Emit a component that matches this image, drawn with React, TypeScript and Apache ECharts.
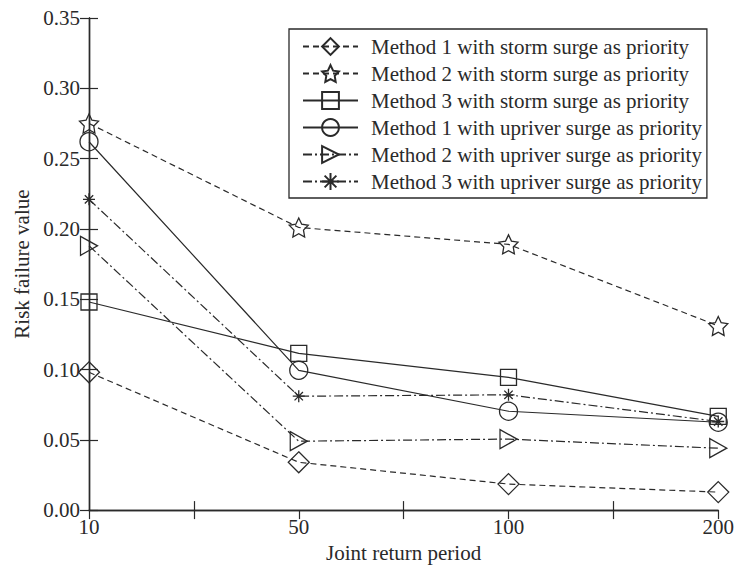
import React, { useEffect, useRef } from "react";
import * as echarts from "echarts";

const categories = ["10", "50", "100", "200"];
const seriesNames = [
  "Method 1 with storm surge as priority",
  "Method 2 with storm surge as priority",
  "Method 3 with storm surge as priority",
  "Method 1 with upriver surge as priority",
  "Method 2 with upriver surge as priority",
  "Method 3 with upriver surge as priority",
];
const m1Storm = [0.098, 0.034, 0.0185, 0.0128];
const m2Storm = [0.275, 0.201, 0.189, 0.131];
const m3Storm = [0.148, 0.1115, 0.0944, 0.0667];
const m1Upriver = [0.262, 0.0994, 0.0703, 0.0625];
const m2Upriver = [0.188, 0.049, 0.0505, 0.044];
const m3Upriver = [0.221, 0.081, 0.082, 0.063];

const FONT = "Liberation Serif";
const INK = "#2a2a2a";

const STAR =
  "path://M0,-10L2.94,-4.05L9.51,-3.09L4.76,1.55L5.88,8.09L0,5L-5.88,8.09L-4.76,1.55L-9.51,-3.09L-2.94,-4.05Z";
const DIAMOND = "path://M0,-10L10,0L0,10L-10,0Z";
const TRI_RIGHT = "path://M-9,-10L9,0L-9,10Z";
const ASTER = "path://M0,-10L0,10M-10,0L10,0M-7,-7L7,7M-7,7L7,-7";

export default function App() {
  const ref = useRef<HTMLDivElement>(null);
  useEffect(() => {
    if (!ref.current) return;
    const chart = echarts.init(ref.current, undefined, { renderer: "svg" });
    const toData = (arr: number[]) => arr.map((v, i) => [i, v]);
    const hollow = { color: "rgba(255,255,255,0)", borderColor: INK, borderWidth: 1.3 };
    const mk = (
      name: string,
      arr: number[],
      symbol: string,
      size: number | number[],
      type: any
    ) => ({
      name,
      type: "line",
      data: toData(arr),
      symbol,
      symbolSize: size,
      showAllSymbol: true,
      lineStyle: { color: INK, width: 1.2, type },
      itemStyle: hollow,
      emphasis: { disabled: true },
    });
    const dash = [6, 4];
    const dashDot = [9, 3, 2, 3];
    const tick = { inside: true, length: 9, lineStyle: { color: INK, width: 1.2 } };
    const axisLine = { show: true, lineStyle: { color: INK, width: 1.4 } };
    chart.setOption({
      animation: false,
      textStyle: { fontFamily: FONT },
      grid: { left: 89, right: 18, top: 18, bottom: 57 },
      legend: {
        orient: "vertical",
        left: 289,
        top: 29,
        data: seriesNames,
        borderColor: INK,
        borderWidth: 1.3,
        padding: [7, 5, 6, 13],
        itemGap: 6,
        itemWidth: 55,
        itemHeight: 21,
        textStyle: { fontFamily: FONT, fontSize: 21, color: INK, padding: [0, 0, 0, 8] },
        backgroundColor: "#fff",
      },
      xAxis: [
        {
          type: "value",
          min: 0,
          max: 3,
          interval: 0.5,
          position: "bottom",
          name: "Joint return period",
          nameLocation: "middle",
          nameGap: 31,
          nameTextStyle: { fontFamily: FONT, fontSize: 21, color: INK },
          axisLine,
          axisTick: { ...tick, customValues: [0.5, 1.5, 2.5] },
          axisLabel: {
            fontFamily: FONT,
            fontSize: 21,
            color: INK,
            margin: 6,
            customValues: [0, 1, 2, 3],
            formatter: (v: number) => (Number.isInteger(v) ? categories[v] : ""),
          },
          splitLine: { show: false },
        },
        {
          type: "value",
          min: 0,
          max: 3,
          interval: 0.5,
          position: "top",
          axisLine,
          axisTick: tick,
          axisLabel: { show: false },
          splitLine: { show: false },
        },
      ],
      yAxis: [
        {
          type: "value",
          min: 0,
          max: 0.35,
          interval: 0.05,
          name: "Risk failure value",
          nameLocation: "middle",
          nameGap: 55,
          nameTextStyle: { fontFamily: FONT, fontSize: 21, color: INK },
          axisLine,
          axisTick: { show: true, ...tick },
          axisLabel: {
            fontFamily: FONT,
            fontSize: 21,
            color: INK,
            margin: 9,
            formatter: (v: number) => v.toFixed(2),
          },
          splitLine: { show: false },
        },
        {
          type: "value",
          min: 0,
          max: 0.35,
          interval: 0.05,
          position: "right",
          axisLine,
          axisTick: { show: true, ...tick },
          axisLabel: { show: false },
          splitLine: { show: false },
        },
      ],
      series: [
        mk(seriesNames[0], m1Storm, DIAMOND, 21, dash),
        mk(seriesNames[1], m2Storm, STAR, 19, dash),
        mk(seriesNames[2], m3Storm, "rect", 16, "solid"),
        mk(seriesNames[3], m1Upriver, "circle", 18, "solid"),
        mk(seriesNames[4], m2Upriver, TRI_RIGHT, [17, 19], dashDot),
        mk(seriesNames[5], m3Upriver, ASTER, 12, dashDot),
      ],
    });
    return () => chart.dispose();
  }, []);
  return (
    <div
      ref={ref}
      style={{ position: "absolute", left: 0, top: 0, width: 737, height: 568 }}
    />
  );
}
